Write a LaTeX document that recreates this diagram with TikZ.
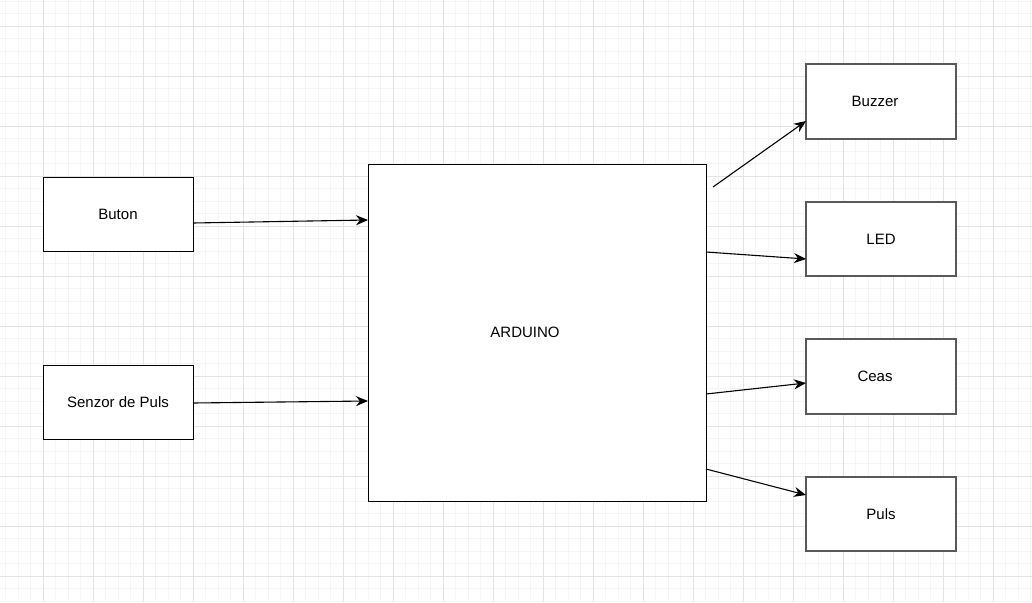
\documentclass[tikz,border=0pt]{standalone}
\usepackage{fontspec}
\setmainfont{Liberation Sans}
\usetikzlibrary{arrows.meta}
\begin{document}
\begin{tikzpicture}[x=1pt,y=-1pt,
  box/.style={draw=black,line width=1pt,fill=white,inner sep=0pt,font=\fontsize{15}{17}\selectfont},
  gbox/.style={box,draw=black!65,line width=1.5pt},
  arr/.style={line width=1.1pt,-{Stealth[length=12pt,width=10pt]}}]
\fill[white] (0,0) rectangle (1032,602);
\useasboundingbox (0,0) rectangle (1032,602);
\foreach \x in {5.5,18,...,1032} \draw[black!4,line width=0.6pt] (\x,0) -- (\x,602);
\foreach \y in {1,13.5,...,602} \draw[black!4,line width=0.6pt] (0,\y) -- (1032,\y);
\foreach \x in {43,93,...,1032} \draw[black!11,line width=0.8pt] (\x,0) -- (\x,602);
\foreach \y in {26,76,...,602} \draw[black!11,line width=0.8pt] (0,\y) -- (1032,\y);
\node[box,minimum width=150pt,minimum height=74pt] (buton) at (118,214) {Buton};
\node[box,minimum width=150pt,minimum height=74pt] (senzor) at (118,402) {Senzor de Puls};
\node[box,minimum width=338pt,minimum height=337pt] (ard) at (537,332.5) {ARDUINO\hspace*{24pt}};
\node[gbox,minimum width=150pt,minimum height=75pt] (buz) at (881,101.5) {Buzzer\hspace*{12pt}};
\node[gbox,minimum width=150pt,minimum height=74pt] (led) at (881,239) {LED};
\node[gbox,minimum width=150pt,minimum height=75pt] (ceas) at (881,376.5) {Ceas\hspace*{12pt}};
\node[gbox,minimum width=150pt,minimum height=74pt] (puls) at (881,514) {Puls};
\coordinate (a1) at (193,223); \coordinate (b1) at (368,220);
\coordinate (a2) at (193,403); \coordinate (b2) at (368,401);
\coordinate (a3) at (713,187); \coordinate (b3) at (806,121);
\coordinate (a4) at (706,252); \coordinate (b4) at (806,259);
\coordinate (a5) at (706,394); \coordinate (b5) at (806,383);
\coordinate (a6) at (706,469); \coordinate (b6) at (806,495);
\draw[arr] (a1) -- (b1);
\draw[arr] (a2) -- (b2);
\draw[arr] (a3) -- (b3);
\draw[arr] (a4) -- (b4);
\draw[arr] (a5) -- (b5);
\draw[arr] (a6) -- (b6);
\end{tikzpicture}
\end{document}
